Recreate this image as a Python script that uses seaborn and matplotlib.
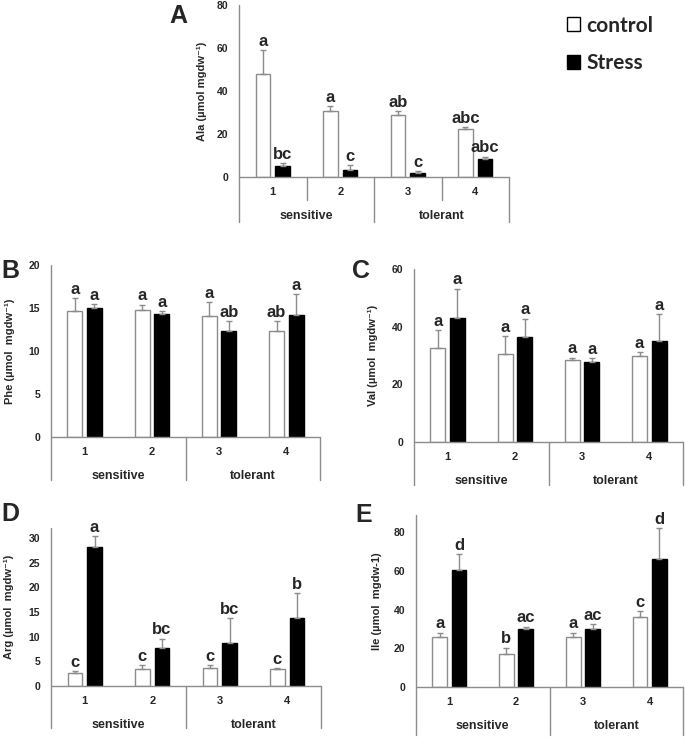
import pandas as pd
import matplotlib
matplotlib.use("Agg")
import matplotlib.pyplot as plt
import seaborn as sns
from matplotlib.patches import Patch

# cultivars and their groups
cultivars = ['1', '2', '3', '4']
groups = ['sensitive', 'tolerant']
treatments = ['control', 'Stress']

# Ala
ala_ctrl = [48.0, 30.8, 28.8, 22.3]
ala_ctrl_se = [11.1, 2.3, 2.0, 0.8]
ala_str = [4.9, 3.2, 2.0, 8.3]
ala_str_se = [1.6, 2.2, 0.8, 1.2]
ala_let_ctrl = ['a', 'a', 'ab', 'abc']
ala_let_str = ['bc', 'c', 'c', 'abc']

# Phe
phe_ctrl = [14.6, 14.8, 14.1, 12.3]
phe_ctrl_se = [1.6, 0.6, 1.6, 1.2]
phe_str = [15.0, 14.3, 12.3, 14.2]
phe_str_se = [0.5, 0.3, 1.2, 2.4]
phe_let_ctrl = ['a', 'a', 'a', 'ab']
phe_let_str = ['a', 'a', 'ab', 'a']

# Val
val_ctrl = [32.7, 30.4, 28.6, 29.8]
val_ctrl_se = [6.0, 6.3, 0.7, 1.4]
val_str = [42.9, 36.5, 27.9, 35.0]
val_str_se = [10.3, 6.3, 1.2, 9.3]
val_let_ctrl = ['a', 'a', 'a', 'a']
val_let_str = ['a', 'a', 'a', 'a']

# Arg
arg_ctrl = [2.7, 3.5, 3.6, 3.5]
arg_ctrl_se = [0.3, 0.7, 0.6, 0.2]
arg_str = [28.2, 7.6, 8.8, 13.7]
arg_str_se = [2.2, 2.0, 4.9, 5.1]
arg_let_ctrl = ['c', 'c', 'c', 'c']
arg_let_str = ['a', 'bc', 'bc', 'b']

# Ile
ile_ctrl = [26.0, 17.0, 25.8, 36.4]
ile_ctrl_se = [2.2, 3.4, 2.4, 2.9]
ile_str = [60.4, 30.0, 30.0, 66.0]
ile_str_se = [8.3, 1.3, 2.7, 16.3]
ile_let_ctrl = ['a', 'b', 'a', 'c']
ile_let_str = ['d', 'ac', 'ac', 'd']

W, H = 685, 737
sns.set_theme(style="white")
plt.rcParams['font.family'] = ['Liberation Sans', 'DejaVu Sans']
line_col = '#8c8c8c'

fig = plt.figure(figsize=(W / 100, H / 100), dpi=100)


def panel(letter, lab_xy, box, ymax, yticks, ylabel, ylab_off,
          ctrl, ctrl_se, stress, stress_se, let_c, let_s, short_seps=False):
    left, right, zero, top, bottom = box
    axw, axh = right - left, zero - top
    ax = fig.add_axes([left / W, (H - zero) / H, axw / W, axh / H])
    ax.patch.set_alpha(0)

    df = pd.DataFrame({
        'cultivar': cultivars * 2,
        'treatment': [treatments[0]] * 4 + [treatments[1]] * 4,
        'value': ctrl + stress,
    })
    sns.barplot(data=df, x='cultivar', y='value', hue='treatment',
                order=cultivars, hue_order=treatments,
                palette=['white', 'black'], saturation=1, width=0.58, gap=0.24,
                edgecolor=line_col, linewidth=1, errorbar=None, legend=False, ax=ax)
    for b in ax.containers[1]:
        b.set_edgecolor('black')

    for cont, errs, lets in [(ax.containers[0], ctrl_se, let_c),
                             (ax.containers[1], stress_se, let_s)]:
        xs = [b.get_x() + b.get_width() / 2 for b in cont]
        ys = [b.get_height() for b in cont]
        ax.errorbar(xs, ys, yerr=[[0] * 4, errs], fmt='none', ecolor=line_col,
                    elinewidth=1, capsize=2, capthick=1, zorder=1)
        for x, y, e, t in zip(xs, ys, errs, lets):
            ax.annotate(t, (x, y + e), xytext=(0, 3), textcoords='offset points',
                        ha='center', va='baseline', fontsize=12, fontweight='bold')

    ax.set_xlim(-0.5, 3.5)
    ax.set_ylim(0, ymax)
    ax.set_yticks(yticks)
    ax.set_xlabel('')
    ax.set_ylabel(ylabel, fontsize=8, fontweight='bold')
    ax.yaxis.set_label_coords(-ylab_off / axw, 0.5)
    for s in ax.spines.values():
        s.set_visible(False)
    ax.tick_params(axis='y', length=0, pad=7.9, labelsize=7.5)
    ax.tick_params(axis='x', length=0, pad=7.5, labelsize=8)
    for t in ax.get_yticklabels() + ax.get_xticklabels():
        t.set_fontweight('bold')

    # category table under the axis
    bf = -(bottom - zero) / axh
    tr = ax.get_xaxis_transform()
    kw = dict(color=line_col, lw=1, clip_on=False, transform=tr)
    ax.plot([-0.5, -0.5], [1, bf], **kw)
    ax.plot([-0.5, 3.5], [0, 0], **kw)
    ax.plot([3.5, 3.5], [0, bf], **kw)
    ax.plot([1.5, 1.5], [0, bf], **kw)
    if short_seps:
        sf = -23 / axh
        ax.plot([0.5, 0.5], [0, sf], **kw)
        ax.plot([2.5, 2.5], [0, sf], **kw)
    gy = -39 / axh
    for gx, g in zip([0.5, 2.5], groups):
        ax.text(gx, gy, g, transform=tr, ha='center', va='center',
                fontsize=9, fontweight='bold')

    fig.text(lab_xy[0] / W, 1 - lab_xy[1] / H, letter, fontsize=18,
             fontweight='bold', ha='left', va='top')
    return ax


sup = 'mgdw\u207b\u00b9'
panel('A', (169, 4), (239, 509, 177, 5, 222), 80, [0, 20, 40, 60, 80],
      'Ala (\u00b5mol ' + sup + ')', 32,
      ala_ctrl, ala_ctrl_se, ala_str, ala_str_se, ala_let_ctrl, ala_let_str,
      short_seps=True)
panel('B', (1, 259), (51, 320, 437, 265, 480), 20, [0, 5, 10, 15, 20],
      'Phe (\u00b5mol  ' + sup + ')', 36,
      phe_ctrl, phe_ctrl_se, phe_str, phe_str_se, phe_let_ctrl, phe_let_str)
panel('C', (352, 259), (414, 683, 442, 269, 485), 60, [0, 20, 40, 60],
      'Val (\u00b5mol  ' + sup + ')', 36,
      val_ctrl, val_ctrl_se, val_str, val_str_se, val_let_ctrl, val_let_str)
panel('D', (1, 502), (51, 321, 686, 528, 728), 32, [0, 5, 10, 15, 20, 25, 30],
      'Arg (\u00b5mol  ' + sup + ')', 37,
      arg_ctrl, arg_ctrl_se, arg_str, arg_str_se, arg_let_ctrl, arg_let_str)
panel('E', (355, 503), (416, 683, 687, 515, 735), 89, [0, 20, 40, 60, 80],
      'Ile (\u00b5mol  mgdw-1)', 34,
      ile_ctrl, ile_ctrl_se, ile_str, ile_str_se, ile_let_ctrl, ile_let_str)

# legend
handles = [Patch(facecolor='white', edgecolor='black', lw=1, label=treatments[0]),
           Patch(facecolor='black', edgecolor='black', lw=1, label=treatments[1])]
fig.legend(handles=handles, loc='upper left', bbox_to_anchor=(552 / W, 1 - 1 / H),
           frameon=False, prop={'family': 'Lato', 'weight': 'bold', 'size': 15},
           handlelength=0.65, handleheight=0.65, handletextpad=0.3,
           labelspacing=0.85, borderpad=0.2)

fig.savefig('out.png', dpi=100)
